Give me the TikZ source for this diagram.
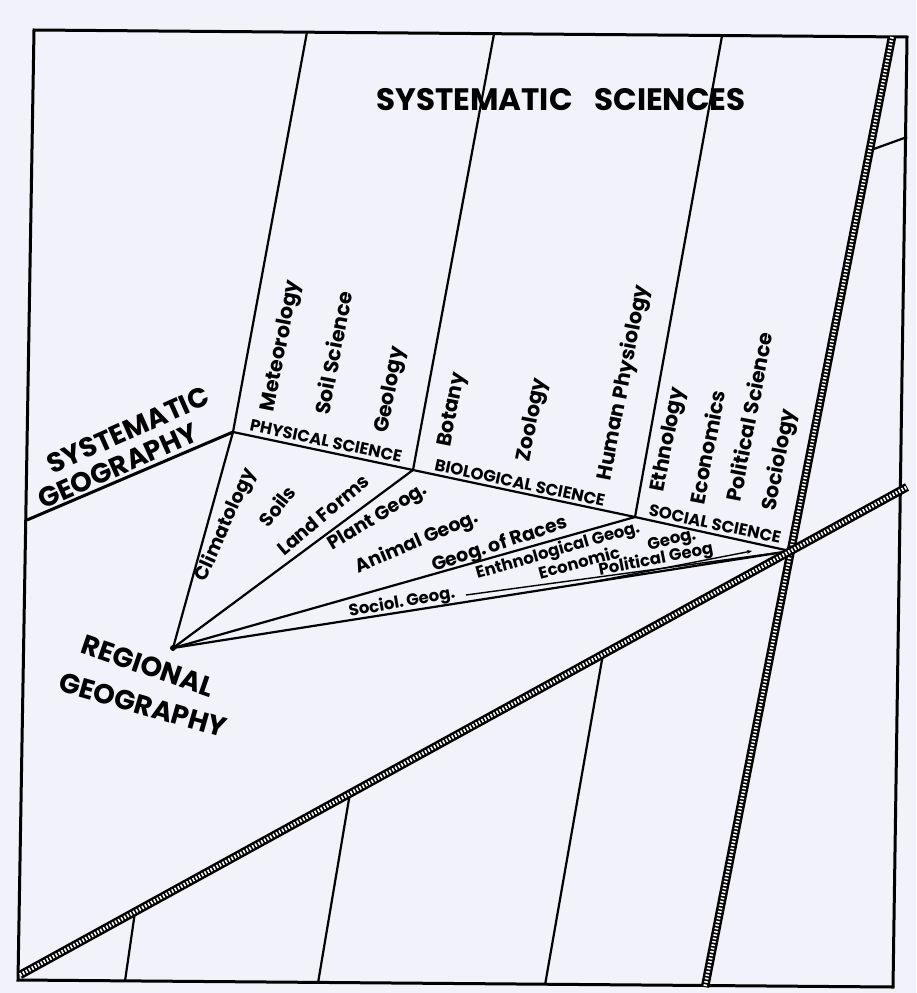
\documentclass[tikz,border=0pt]{standalone}
\usepackage{fontspec}
\setmainfont{Poppins}
\usepackage{tikz}
\usetikzlibrary{arrows.meta}
\definecolor{paper}{HTML}{F1F2FA}

\begin{document}
\begin{tikzpicture}[x=1pt,y=-1pt,
    frame/.style={line width=3pt, line join=miter},
    divide/.style={line width=2.2pt},
    thinline/.style={line width=1.4pt},
    hatched/.style={line width=8.5pt, draw=black,
        postaction={draw=white, line width=3.6pt, dash pattern=on 1.6pt off 1.8pt}},
    vlabel/.style={font=\fontsize{20.5}{22}\selectfont\bfseries, rotate=79, inner sep=0pt},
    flabel/.style={font=\fontsize{19}{21}\selectfont\bfseries, inner sep=0pt},
    slabel/.style={font=\fontsize{16.5}{18}\selectfont\bfseries, inner sep=0pt},
    caplabel/.style={font=\fontsize{16.5}{18}\selectfont\bfseries, rotate=-12, inner sep=0pt},
    biglabel/.style={font=\fontsize{27.5}{29}\selectfont\bfseries, inner sep=0pt}]
    % Papier
    \fill[paper] (0,0) rectangle (916,993);
    \useasboundingbox (0,0) rectangle (916,993);
    % Points
    \coordinate (tl) at (34,30);
    \coordinate (tr) at (907,37);
    \coordinate (br) at (893,987);
    \coordinate (bl) at (18,980);
    \coordinate (physj) at (233,432);
    \coordinate (bioj) at (413,470);
    \coordinate (socj) at (635,517);
    \coordinate (cross) at (790,551);
    \coordinate (regpt) at (173,648);
    \coordinate (sgl) at (27,520);
    % Cadre
    \draw[frame] (tl) -- (tr) -- (br) -- (bl) -- cycle;
    % Sciences systematiques
    \draw[divide] (307,32) -- (physj);
    \draw[divide] (494,34) -- (bioj);
    \draw[divide] (722,36) -- (socj);
    \draw[frame] (sgl) -- (physj);
    \draw[divide] (physj) -- (bioj) -- (socj) -- (cross);
    % Eventail
    \draw[divide] (regpt) -- (physj);
    \draw[divide] (regpt) -- (bioj);
    \draw[divide] (regpt) -- (socj);
    \draw[divide] (regpt) -- (cross);
    \fill (regpt) circle (3pt);
    \draw[thinline] (466,595) -- (cross);
    \draw[thinline, -{Stealth[length=5pt]}] (592,582) -- (752,551);
    % Lignes du bas
    \draw[divide] (135,912) -- (125,981);
    \draw[divide] (350,793) -- (318,983);
    \draw[divide] (603,654) -- (545,985);
    \draw[divide] (871,150) -- (907,137);
    % Lignes hachurees
    \draw[hatched] (892,37) -- (705,987);
    \draw[hatched] (20,975) -- (907,487);

    % Titre
    \node[font=\fontsize{31}{33}\selectfont\bfseries, inner sep=0pt] (ttl) at (561,100) {SYSTEMATIC\hspace{0.7em}SCIENCES};
    % Colonnes
    \node[vlabel] (met) at (282,346) {Meteorology};
    \node[vlabel] (soil) at (333,353) {Soil Science};
    \node[vlabel] (geol) at (391,390) {Geology};
    \node[vlabel] (bot) at (453,410) {Botany};
    \node[vlabel] (zoo) at (533,420) {Zoology};
    \node[vlabel] (hum) at (624,383) {Human Physiology};
    \node[vlabel] (eth) at (669,440) {Ethnology};
    \node[vlabel] (eco) at (707,447) {Economics};
    \node[vlabel] (pol) at (749,417) {Political Science};
    \node[vlabel] (soc) at (780,460) {Sociology};
    % Sciences
    \node[caplabel] (phys) at (326,441) {PHYSICAL SCIENCE};
    \node[caplabel] (bio) at (520,483) {BIOLOGICAL SCIENCE};
    \node[caplabel] (socs) at (715,524) {SOCIAL SCIENCE};
    % Geographie
    \node[biglabel, rotate=24] (sys1) at (128,430) {SYSTEMATIC};
    \node[biglabel, rotate=24] (sys2) at (118,466) {GEOGRAPHY};
    \node[biglabel, rotate=-19] (reg1) at (148,666) {REGIONAL};
    \node[biglabel, rotate=-16] (reg2) at (143,705) {GEOGRAPHY};
    % Branches
    \node[flabel, rotate=66] (clim) at (226,525) {Climatology};
    \node[flabel, rotate=52] (soils) at (277,506) {Soils};
    \node[flabel, rotate=40] (land) at (323,515) {Land Forms};
    \node[flabel, rotate=31] (plant) at (378,518) {Plant Geog.};
    \node[flabel, rotate=23] (anim) at (417,543) {Animal Geog.};
    \node[flabel, rotate=18] (races) at (500,545) {Geog.\,of Races};
    \node[slabel, rotate=16] (ethg) at (558,551) {Enthnological Geog.};
    \node[slabel, rotate=15] (ecog) at (579,562) {Economic};
    \node[slabel, rotate=13] (ecog2) at (672,541) {Geog.};
    \node[slabel, rotate=11] (polg) at (656,560) {Political Geog};
    \node[slabel, rotate=10] (socg) at (402,603) {Sociol.\,Geog.};
\end{tikzpicture}
\end{document}
